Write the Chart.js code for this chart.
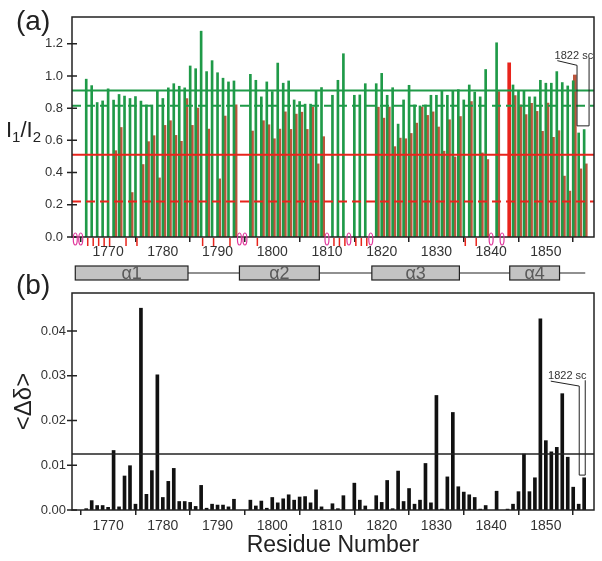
<!DOCTYPE html>
<html>
<head>
<meta charset="utf-8">
<title>I1/I2 ratios and chemical shift changes</title>
<script src="https://cdn.jsdelivr.net/npm/chart.js@4.4.1/dist/chart.umd.min.js"></script>
<style>
  html, body { margin: 0; padding: 0; background: #ffffff; }
  #page { position: relative; width: 602px; height: 561px; }
  #page canvas { position: absolute; left: 0; top: 0; }
</style>
</head>
<body>
<div id="page">
  <canvas id="ratioChart" width="602" height="561"></canvas>
  <canvas id="shiftChart" width="602" height="561"></canvas>
</div>
<script>
// residue numbers (one bar slot each)
const residues = [
  1764, 1765, 1766, 1767, 1768, 1769, 1770, 1771, 1772, 1773,
  1774, 1775, 1776, 1777, 1778, 1779, 1780, 1781, 1782, 1783,
  1784, 1785, 1786, 1787, 1788, 1789, 1790, 1791, 1792, 1793,
  1794, 1795, 1796, 1797, 1798, 1799, 1800, 1801, 1802, 1803,
  1804, 1805, 1806, 1807, 1808, 1809, 1810, 1811, 1812, 1813,
  1814, 1815, 1816, 1817, 1818, 1819, 1820, 1821, 1822, 1823,
  1824, 1825, 1826, 1827, 1828, 1829, 1830, 1831, 1832, 1833,
  1834, 1835, 1836, 1837, 1838, 1839, 1840, 1841, 1842, 1843,
  1844, 1845, 1846, 1847, 1848, 1849, 1850, 1851, 1852, 1853,
  1854, 1855, 1856, 1857
];

// (a) I1/I2, green series (null = no peak)
const ratioGreen = [
  null, null, 0.98, 0.94, 0.835, 0.845, 0.92, 0.85, 0.885, 0.875,
  0.86, 0.872, 0.844, 0.82, 0.82, 0.91, 0.86, 0.926, 0.952, 0.936,
  0.926, 1.062, 1.045, 1.278, 1.027, 1.095, 1.02, 0.986, 0.963, 0.969,
  null, null, 1.01, 0.973, 0.87, 0.963, 0.903, 1.08, 0.955, 0.969,
  0.851, 0.841, 0.825, 0.825, 0.907, 0.928, null, 0.88, 0.973, 1.138,
  null, 0.88, 0.882, 0.952, null, 0.952, 1.016, 0.88, 0.927, 0.701,
  0.851, 0.942, 0.82, 0.814, 0.82, 0.88, 0.88, 0.907, 0.88, 0.907,
  0.915, 0.851, 0.944, 0.9, 0.87, 1.04, null, 1.206, null, null,
  0.944, 0.91, 0.907, 0.87, 0.87, 0.973, 0.955, 0.955, 1.027, 0.959,
  0.938, 0.97, 0.646, 0.667
];

// (a) I1/I2, red series (null = no peak)
const ratioRed = [
  null, null, null, null, null, null, null, 0.536, 0.68, null,
  0.276, null, 0.45, 0.592, 0.629, 0.367, 0.693, 0.722, 0.631, 0.594,
  0.86, 0.693, 0.8, null, 0.67, null, 0.361, 0.751, null, 0.821,
  null, null, 0.658, null, 0.722, 0.697, 0.61, 0.67, 0.777, 0.668,
  0.763, 0.775, 0.668, 0.806, 0.454, 0.623, null, null, null, null,
  null, null, null, null, null, 0.806, 0.738, 0.806, 0.561, 0.614,
  0.61, 0.643, 0.707, 0.806, 0.755, 0.777, 0.683, 0.533, 0.728, 0.497,
  0.748, null, 0.841, null, 0.522, 0.481, null, 0.903, null, 1.082,
  0.878, 0.82, 0.76, 0.83, 0.78, 0.656, 0.831, 0.619, 0.66, 0.378,
  0.285, 1.006, 0.423, 0.454
];

// (b) <delta delta>
const shiftDelta = [
  null, null, 0.0003, 0.0021, 0.001, 0.001, 0.0006, 0.0133, 0.0007, 0.0076,
  0.0099, 0.0013, 0.0451, 0.0035, 0.0088, 0.0302, 0.0028, 0.0064, 0.0093, 0.0019,
  0.0019, 0.0017, 0.0008, 0.0055, 0.0004, 0.0013, 0.0011, 0.0011, 0.0007, 0.0024,
  null, null, 0.0022, 0.0009, 0.002, 0.0004, 0.0028, 0.0016, 0.0025, 0.0034,
  0.0022, 0.0029, 0.003, 0.0016, 0.0045, 0.0007, null, 0.0014, 0.0003, 0.0032,
  null, 0.006, 0.0022, 0.0009, null, 0.0032, 0.0017, 0.0066, 0.0003, 0.0087,
  0.0019, 0.0048, 0.0013, 0.0022, 0.0104, 0.0016, 0.0256, 0.0002, 0.0074, 0.0218,
  0.0052, 0.004, 0.0034, 0.0028, 0.0002, 0.001, null, 0.0042, null, 0.0002,
  0.0013, 0.0041, 0.0125, 0.0041, 0.0072, 0.0427, 0.0155, 0.013, 0.014, 0.026,
  0.0118, 0.0051, 0.0013, 0.0072
];

const prolines = [1764, 1765, 1794, 1795, 1810, 1814, 1818, 1840, 1842];
const noRedPeak = [1766, 1767, 1768, 1769, 1770, 1773, 1775, 1787, 1789, 1792,
                   1797, 1811, 1812, 1813, 1815, 1816, 1817, 1835, 1837];

const ratioCutoffs = [0.91, 0.815, 0.51, 0.22];
const shiftCutoffs = [0.0125];

const xTicks = [1770, 1780, 1790, 1800, 1810, 1820, 1830, 1840, 1850];
const ratioTicks = [0, 0.2, 0.4, 0.6, 0.8, 1.0, 1.2];
const shiftTicks = [0, 0.01, 0.02, 0.03, 0.04];

const helices = [
  { name: 'α1', start: 1764, end: 1784.6 },
  { name: 'α2', start: 1794, end: 1808.6 },
  { name: 'α3', start: 1818.2, end: 1834.2 },
  { name: 'α4', start: 1843.4, end: 1852.5 }
];
const helixLine = [1764, 1857.2];

// "1822 sc" call-outs, in data units
const noteA = { text: '1822 sc', at: [1851.6, 1.105],
  path: [[1852.1, 1.095], [1855.7, 1.066], [1855.7, 0.69], [1857.9, 0.69], [1857.9, 1.11]] };
const noteB = { text: '1822 sc', at: [1850.4, 0.0293],
  path: [[1850.9, 0.0288], [1856.1, 0.0277], [1856.1, 0.0078], [1857.2, 0.0078], [1857.2, 0.029]] };

const xMin = 1763.4, xMax = 1858.8;

const FONT = "'Liberation Sans', Arial, Helvetica, sans-serif";
const INK = '#222222';
const TEXT = '#333333';
const GREEN = '#1f9a48';
const BROWN = '#bb553c';
const RED = '#e8241c';
const MAGENTA = '#e0379b';

function pairs(values) {
  return residues.map((r, i) => ({ x: r, y: values[i] }));
}

function hline(v, color, dash, width) {
  return {
    type: 'line',
    data: [{ x: xMin, y: v }, { x: xMax, y: v }],
    xAxisID: 'x',
    borderColor: color,
    borderWidth: width,
    borderDash: dash,
    pointRadius: 0,
    order: 0
  };
}

function frameAndTicks(chart) {
  const { ctx, chartArea: a } = chart;
  const y = chart.scales.y;
  ctx.save();
  ctx.strokeStyle = INK;
  ctx.lineWidth = 1.5;
  ctx.strokeRect(a.left, a.top, a.right - a.left, a.bottom - a.top);
  ctx.beginPath();
  y.ticks.forEach(t => {
    const py = y.getPixelForValue(t.value);
    ctx.moveTo(a.left - 5, py);
    ctx.lineTo(a.left + 5, py);
  });
  ctx.stroke();
  ctx.restore();
}

function drawNote(chart, note) {
  const { ctx } = chart;
  const x = chart.scales.x, y = chart.scales.y;
  ctx.save();
  ctx.font = '11px ' + FONT;
  ctx.fillStyle = TEXT;
  ctx.textAlign = 'left';
  ctx.textBaseline = 'alphabetic';
  ctx.fillText(note.text, x.getPixelForValue(note.at[0]), y.getPixelForValue(note.at[1]));
  ctx.strokeStyle = INK;
  ctx.lineWidth = 1;
  ctx.beginPath();
  note.path.forEach((p, i) => {
    const px = x.getPixelForValue(p[0]), py = y.getPixelForValue(p[1]);
    if (i === 0) ctx.moveTo(px, py); else ctx.lineTo(px, py);
  });
  ctx.stroke();
  ctx.restore();
}

function panelLabel(ctx, text, px, py) {
  ctx.save();
  ctx.font = '28px ' + FONT;
  ctx.fillStyle = INK;
  ctx.textBaseline = 'alphabetic';
  ctx.fillText(text, px, py);
  ctx.restore();
}

const ratioExtras = {
  id: 'ratioExtras',
  afterDatasetsDraw(chart) {
    frameAndTicks(chart);
  },
  afterDraw(chart) {
    const { ctx, chartArea: a } = chart;
    const x = chart.scales.x;
    ctx.save();

    // residues with a green peak only
    ctx.strokeStyle = RED;
    ctx.lineWidth = 1.5;
    ctx.beginPath();
    noRedPeak.forEach(r => {
      const px = x.getPixelForValue(r) + 1.5;
      ctx.moveTo(px, a.bottom + 1);
      ctx.lineTo(px, a.bottom + 9);
    });
    ctx.stroke();

    // prolines
    ctx.strokeStyle = MAGENTA;
    ctx.lineWidth = 1.2;
    prolines.forEach(r => {
      ctx.beginPath();
      ctx.ellipse(x.getPixelForValue(r), a.bottom + 2, 2, 6, 0, 0, Math.PI * 2);
      ctx.stroke();
    });

    // secondary structure
    const hy = a.bottom + 29, hh = 14;
    ctx.strokeStyle = INK;
    ctx.lineWidth = 1.2;
    ctx.beginPath();
    ctx.moveTo(x.getPixelForValue(helixLine[0]), hy + hh / 2);
    ctx.lineTo(x.getPixelForValue(helixLine[1]), hy + hh / 2);
    ctx.stroke();
    ctx.font = '18px ' + FONT;
    ctx.textAlign = 'center';
    ctx.textBaseline = 'middle';
    helices.forEach(h => {
      const x0 = x.getPixelForValue(h.start), x1 = x.getPixelForValue(h.end);
      ctx.fillStyle = '#c3c3c3';
      ctx.fillRect(x0, hy, x1 - x0, hh);
      ctx.strokeRect(x0, hy, x1 - x0, hh);
      ctx.fillStyle = '#5a5a5a';
      ctx.fillText(h.name, (x0 + x1) / 2, hy + hh / 2 + 1);
    });

    // y title I1/I2
    ctx.textAlign = 'left';
    ctx.textBaseline = 'alphabetic';
    ctx.fillStyle = INK;
    let tx = 6;
    const parts = [['I', 22, 0], ['1', 15, 5], ['/I', 22, 0], ['2', 15, 5]];
    parts.forEach(p => {
      ctx.font = p[1] + 'px ' + FONT;
      ctx.fillText(p[0], tx, 137 + p[2]);
      tx += ctx.measureText(p[0]).width;
    });
    ctx.restore();

    panelLabel(ctx, '(a)', 16, 30);
    drawNote(chart, noteA);
  }
};

const shiftExtras = {
  id: 'shiftExtras',
  afterDatasetsDraw(chart) {
    frameAndTicks(chart);
  },
  afterDraw(chart) {
    panelLabel(chart.ctx, '(b)', 16, 294);
    drawNote(chart, noteB);
  }
};

const xTickFont = { family: FONT, size: 14 };
const yTickFont = { family: FONT, size: 13 };

function xAxis(height, pad, title) {
  return {
    type: 'linear',
    min: xMin,
    max: xMax,
    offset: false,
    afterBuildTicks: s => { s.ticks = xTicks.map(v => ({ value: v })); },
    afterFit: s => { s.height = height; },
    grid: { drawOnChartArea: false, drawTicks: true, tickLength: 5, color: INK, lineWidth: 1.5 },
    border: { display: false },
    ticks: { padding: pad, color: TEXT, font: xTickFont, maxRotation: 0, autoSkip: false,
             callback: v => String(v) },
    title: title
  };
}

new Chart(document.getElementById('ratioChart'), {
  type: 'bar',
  data: {
    datasets: [
      ...ratioCutoffs.map((v, i) => hline(v, i < 2 ? GREEN : RED, i % 2 ? [9, 5] : [], 2)),
      {
        label: 'green',
        data: pairs(ratioGreen),
        xAxisID: 'x',
        backgroundColor: GREEN,
        grouped: false,
        barPercentage: 1,
        categoryPercentage: 1,
        maxBarThickness: 2,
        order: 1
      },
      {
        label: 'red',
        data: pairs(ratioRed),
        xAxisID: 'xr',
        backgroundColor: c => ratioGreen[c.dataIndex] === null ? RED : BROWN,
        grouped: false,
        barPercentage: 1,
        categoryPercentage: 1,
        maxBarThickness: 3,
        order: 2
      }
    ]
  },
  options: {
    responsive: false,
    animation: false,
    events: [],
    layout: { padding: { top: 17, right: 8, left: 0, bottom: 0 } },
    plugins: { legend: { display: false }, tooltip: { enabled: false } },
    scales: {
      x: xAxis(561 - 237, 2, { display: false }),
      // the red bars sit just right of the green ones
      xr: { type: 'linear', display: false, min: xMin - 0.3, max: xMax - 0.3, offset: false },
      y: {
        min: 0,
        max: 1.366,
        afterBuildTicks: s => { s.ticks = ratioTicks.map(v => ({ value: v })); },
        afterFit: s => { s.width = 72; },
        grid: { display: false, drawTicks: false },
        border: { display: false },
        ticks: { padding: 9, color: TEXT, font: yTickFont, callback: v => v.toFixed(1) }
      }
    }
  },
  plugins: [ratioExtras]
});

new Chart(document.getElementById('shiftChart'), {
  type: 'bar',
  data: {
    datasets: [
      ...shiftCutoffs.map(v => hline(v, INK, [], 1.5)),
      {
        label: '<Δδ>',
        data: pairs(shiftDelta),
        backgroundColor: '#111111',
        grouped: false,
        barPercentage: 1,
        categoryPercentage: 1,
        maxBarThickness: 3,
        order: 1
      }
    ]
  },
  options: {
    responsive: false,
    animation: false,
    events: [],
    layout: { padding: { top: 293, right: 8, left: 0, bottom: 0 } },
    plugins: { legend: { display: false }, tooltip: { enabled: false } },
    scales: {
      x: xAxis(561 - 510, 3, {
        display: true, text: 'Residue Number', color: INK,
        font: { family: FONT, size: 23 }, padding: { top: 0, bottom: 2 }
      }),
      y: {
        min: 0,
        max: 0.0485,
        afterBuildTicks: s => { s.ticks = shiftTicks.map(v => ({ value: v })); },
        afterFit: s => { s.width = 72; },
        grid: { display: false, drawTicks: false },
        border: { display: false },
        ticks: { padding: 6, color: TEXT, font: yTickFont, callback: v => v.toFixed(2) },
        title: { display: true, text: '<Δδ>', color: INK, font: { family: FONT, size: 24 },
                 padding: { top: 10, bottom: 0 } }
      }
    }
  },
  plugins: [shiftExtras]
});
</script>
</body>
</html>
